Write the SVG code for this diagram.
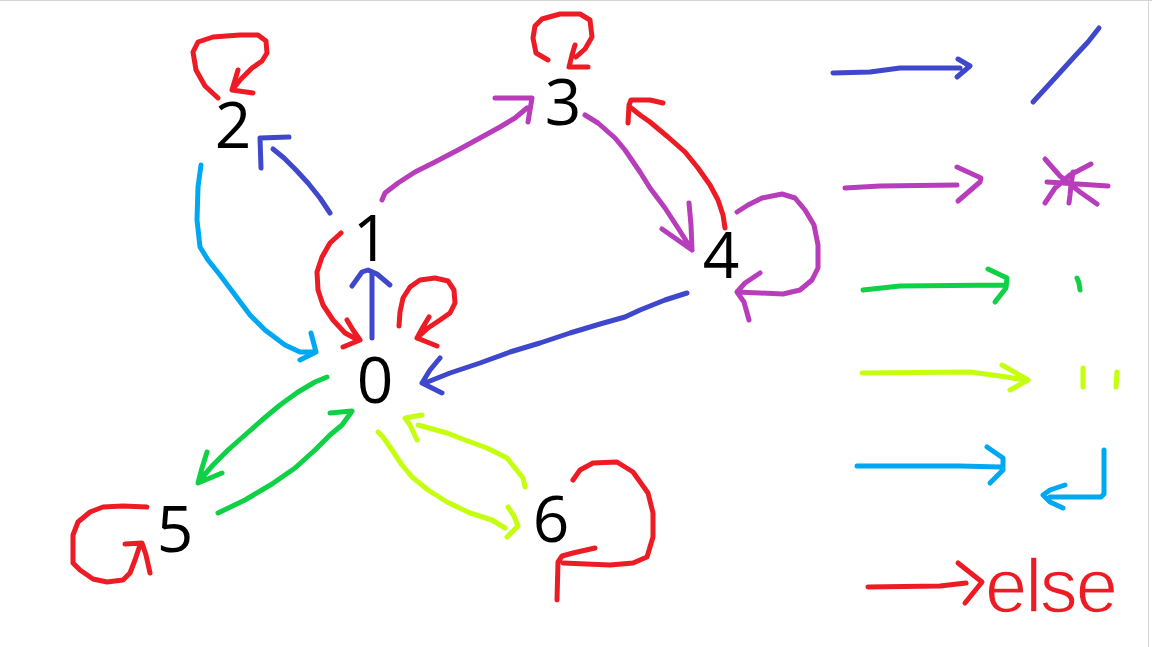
<svg xmlns="http://www.w3.org/2000/svg" width="1152" height="647" viewBox="0 0 1152 647">
<style>
.s{fill:none;stroke-width:5;stroke-linecap:round;stroke-linejoin:round}
.b{stroke:#3F48CC}.p{stroke:#B83DBA}.r{stroke:#ED1C24}.g{stroke:#0ED145}.l{stroke:#C4FF0E}.c{stroke:#00A8F3}
.n{font-family:"Open Sans","Noto Sans","Liberation Sans",sans-serif;font-size:64px;fill:#000;text-anchor:middle}
.e{font-family:"Liberation Sans",Arial,sans-serif;font-size:76px;fill:#ED1C24;stroke:#fff;stroke-width:1.5}
</style>
<rect width="1152" height="647" fill="#fff"/>
<line x1="0" y1="0.5" x2="1152" y2="0.5" stroke="#d4d4d4"/>
<line x1="1148.5" y1="0" x2="1148.5" y2="647" stroke="#d4d4d4"/>
<g id="connectors">
<path class="s b" d="M330,213 L320,198 L308,183 L296,170 L284,158 L273,149 M261,168 L260,138 L289,137"/>
<path class="s r" d="M218,98 L205,86 L196,70 L193,52 L198,42 L213,37 L240,35 L258,35 L266,41 L267,53 L262,61 L252,68 L241,79 L233,89 M238,70 L235,80 L232,90 L253,93"/>
<path class="s c" d="M201,165 L198,187 L197,220 L200,247 L208,260 L220,275 L235,295 L250,315 L265,330 L285,345 L300,352 L316,352 M311,333 L316,352 L300,360"/>
<path class="s r" d="M341,233 L330,243 L322,257 L317,272 L318,290 L323,305 L333,320 L345,333 L358,340 M347,320 L353,330 L360,340 L343,347"/>
<path class="s b" d="M372,338 L372,272 M352,286 L362,272 L368,270 L377,274 L390,285"/>
<path class="s r" d="M399,326 L400,312 L403,298 L410,287 L420,280 L435,278 L448,281 L454,290 L455,303 L450,313 L440,320 L428,328 L417,338 M429,317 L423,327 L417,338 L437,346"/>
<path class="s b" d="M687,293 L665,300 L640,310 L625,317 L600,324 L570,333 L540,343 L510,352 L480,363 L450,373 L425,383 M440,358 L430,370 L422,383 L442,393"/>
<path class="s p" d="M382,200 L385,193 L398,183 L415,172 L435,162 L458,150 L480,138 L500,127 L515,118 L527,108 M495,98 L532,98 L528,122"/>
<path class="s p" d="M585,115 L598,123 L615,138 L625,150 L640,172 L650,188 L665,208 L678,228 L692,250 M689,203 L691,225 L692,250 L662,229"/>
<path class="s r" d="M725,228 L723,215 L718,200 L710,185 L698,168 L685,152 L668,137 L650,122 L640,115 L630,107 M628,123 L629,105 L631,100 L650,100 L663,103"/>
<path class="s p" d="M737,212 L748,205 L762,198 L782,194 L795,198 L805,210 L814,225 L818,245 L818,268 L812,280 L800,290 L783,294 L760,293 L737,292 M760,273 L745,283 L737,292 L744,302 L749,320"/>
<path class="s r" d="M548,60 L536,53 L533,38 L535,26 L542,19 L560,14 L580,14 L590,20 L592,37 L585,49 L576,57 M575,45 L572,55 L569,67 L588,67"/>
<path class="s g" d="M327,377 L315,382 L298,392 L280,405 L262,420 L245,435 L228,450 L213,465 L200,480 M207,452 L202,468 L198,483 L222,473"/>
<path class="s g" d="M218,513 L245,500 L272,484 L295,468 L315,450 L330,435 L342,425 L350,414 L352,411 L330,413"/>
<path class="s l" d="M378,432 L383,437 L392,450 L402,465 L412,477 L428,490 L447,502 L470,513 L492,520 L505,528 M508,507 L514,516 L518,526 L507,537"/>
<path class="s l" d="M525,487 L523,478 L507,458 L487,448 L465,440 L447,433 L418,425 M417,440 L410,425 L405,418 L422,415"/>
<path class="s r" d="M573,480 L580,470 L593,463 L617,462 L633,472 L648,493 L653,513 L653,537 L647,557 L633,563 L610,565 L563,563 M595,548 L573,553 L562,556 L558,562 L557,600"/>
<path class="s r" d="M147,507 L123,506 L103,507 L90,512 L78,522 L73,535 L73,563 L80,570 L93,579 L107,582 L123,580 L130,573 L135,560 L140,545 M125,544 L142,543 L146,555 L150,573"/>
</g>
<g id="node0"><text class="n" x="375" y="403">0</text></g>
<g id="node1"><text class="n" x="371" y="261">1</text></g>
<g id="node2"><text class="n" x="233" y="148">2</text></g>
<g id="node3"><text class="n" x="563" y="125">3</text></g>
<g id="node4"><text class="n" x="721" y="278">4</text></g>
<g id="node5"><text class="n" x="175" y="552">5</text></g>
<g id="node6"><text class="n" x="551" y="542">6</text></g>
<g id="legend">
<path class="s b" d="M833,73 L870,72 L885,70 L900,68 L960,68 M958,59 L970,66 L957,77"/>
<path class="s b" d="M1033,102 L1055,78 L1075,56 L1088,42 L1099,28"/>
<path class="s p" d="M845,188 L880,186 L957,185 M957,167 L981,178 L980,182 L958,201"/>
<path class="s p" d="M1047,182 L1108,186 M1045,159 L1060,176 L1080,192 L1097,204 M1045,203 L1055,188 L1070,175 L1091,164 M1073,172 L1071,185 L1070,195 L1069,203"/>
<path class="s g" d="M863,290 L900,286 L1005,285 M988,269 L1007,278 L1006,288 L995,302"/>
<path class="s g" d="M1077,278 L1079,283 L1080,290"/>
<path class="s l" d="M862,373 L970,372 L1000,376 L1025,380 M1002,365 L1028,380 L1010,390"/>
<path class="s l" d="M1083,368 L1083,387 M1117,372 L1116,387"/>
<path class="s c" d="M857,466 L960,466 L1000,467 M987,447 L1003,458 L1003,470 L990,483"/>
<path class="s c" d="M1104,450 L1104,494 L1101,497 L1050,497 M1065,485 L1050,490 L1043,495 L1050,502 L1063,508"/>
<path class="s r" d="M868,587 L940,586 L966,583 M958,563 L982,582 L965,603"/>
<text class="e" x="985" y="612" textLength="133" lengthAdjust="spacing">else</text>
</g>
</svg>
